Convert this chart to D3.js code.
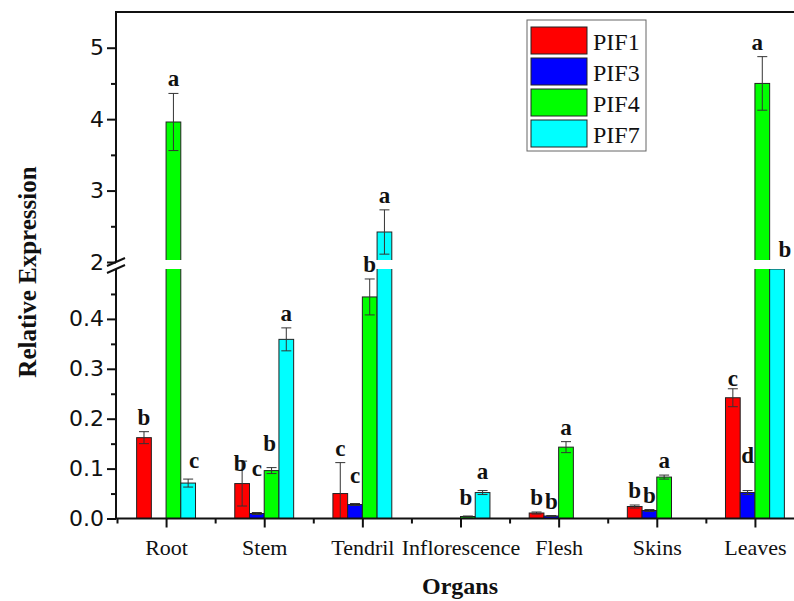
<!DOCTYPE html>
<html>
<head>
<meta charset="utf-8">
<script src="https://cdn.jsdelivr.net/npm/d3@7"></script>
<style>
  body { margin: 0; background: #fff; }
  svg { display: block; }
</style>
</head>
<body>
<svg id="svg" width="794" height="601"></svg>
<script>
// data
const organs = ["Root", "Stem", "Tendril", "Inflorescence", "Flesh", "Skins", "Leaves"];
const series = ["PIF1", "PIF3", "PIF4", "PIF7"];
const colors = ["#ff0000", "#0000ff", "#00ff00", "#00ffff"];

const pif1 = [0.162, 0.070, 0.050, 0, 0.011, 0.024, 0.242];
const pif3 = [0, 0.010, 0.028, 0, 0.005, 0.016, 0.052];
const pif4 = [3.96, 0.096, 0.444, 0.004, 0.143, 0.083, 4.50];
const pif7 = [0.071, 0.359, 2.42, 0.052, 0, 0, 1.2];

const pif1Err = [0.012, 0.045, 0.062, 0, 0.002, 0.003, 0.018];
const pif3Err = [0, 0.002, 0.002, 0, 0.001, 0.002, 0.004];
const pif4Err = [0.40, 0.006, 0.036, 0.001, 0.011, 0.004, 0.375];
const pif7Err = [0.008, 0.023, 0.31, 0.004, 0, 0, 0];

const pif1Sig = ["b", "b", "c", "", "b", "b", "c"];
const pif3Sig = ["", "c", "c", "", "b", "b", "d"];
const pif4Sig = ["a", "b", "b", "b", "a", "a", "a"];
const pif7Sig = ["c", "a", "a", "a", "", "", "b"];

const lowTicks = [0, 0.1, 0.2, 0.3, 0.4];
const highTicks = [2, 3, 4, 5];

const values = [pif1, pif3, pif4, pif7];
const errors = [pif1Err, pif3Err, pif4Err, pif7Err];
const letters = [pif1Sig, pif3Sig, pif4Sig, pif7Sig];

// hand placed letters in the original, nudged in px
const letterNudge = {
  "Root|PIF7": [6, -4],
  "Stem|PIF1": [-2, 17],
  "Stem|PIF3": [0, -30],
  "Stem|PIF4": [-2, -10],
  "Tendril|PIF3": [0, -14],
  "Inflorescence|PIF4": [-2, -4],
  "Inflorescence|PIF7": [0, -5],
  "Leaves|PIF1": [0, 4],
  "Leaves|PIF3": [0, -21],
  "Leaves|PIF4": [-5, 0],
  "Leaves|PIF7": [8, -5],
};

const svg = d3.select("#svg");

const axisX = 116;
const baseY = 518.5;
const gapTop = 260;
const gapBottom = 269;

const x = d3.scaleLinear([0.5, 7.5], [117, 804]);
const yLow = d3.scaleLinear([0, 0.5], [baseY, 269]).clamp(true);
const yHigh = d3.scaleLinear([2, 5.5], [262, 12]);

// broken axis: values between 0.5 and 2 fall into the gap
const y = (v) => (v >= 2 ? yHigh(v) : yLow(v));

const barW = x(0.65) - x(0.5);
const serif = "'Liberation Serif', 'Times New Roman', serif";

const rows = [];
organs.forEach((organ, i) => {
  series.forEach((s, j) => {
    rows.push({
      organ, s, j,
      v: values[j][i],
      e: errors[j][i],
      sig: letters[j][i],
      x0: x(i + 1) + (j - 2) * barW,
    });
  });
});

// bars
svg.append("g")
  .selectAll("rect")
  .data(rows.filter((d) => d.v > 0))
  .join("rect")
  .attr("x", (d) => d.x0)
  .attr("width", barW)
  .attr("y", (d) => y(d.v))
  .attr("height", (d) => baseY - y(d.v))
  .attr("fill", (d) => colors[d.j])
  .attr("stroke", "#222")
  .attr("stroke-width", 1);

// error bars
const eb = svg.append("g")
  .attr("stroke", "#333")
  .attr("stroke-width", 1)
  .selectAll("g")
  .data(rows.filter((d) => d.e > 0))
  .join("g");

eb.append("line")
  .attr("x1", (d) => d.x0 + barW / 2)
  .attr("x2", (d) => d.x0 + barW / 2)
  .attr("y1", (d) => y(d.v + d.e))
  .attr("y2", (d) => y(Math.max(0, d.v - d.e)));
eb.append("line")
  .attr("x1", (d) => d.x0 + barW / 2 - 5)
  .attr("x2", (d) => d.x0 + barW / 2 + 5)
  .attr("y1", (d) => y(d.v + d.e))
  .attr("y2", (d) => y(d.v + d.e));
eb.filter((d) => d.v - d.e > 0)
  .append("line")
  .attr("x1", (d) => d.x0 + barW / 2 - 5)
  .attr("x2", (d) => d.x0 + barW / 2 + 5)
  .attr("y1", (d) => y(d.v - d.e))
  .attr("y2", (d) => y(d.v - d.e));

// white band of the axis break
svg.append("rect")
  .attr("x", axisX + 1)
  .attr("y", gapTop)
  .attr("width", 800)
  .attr("height", gapBottom - gapTop)
  .attr("fill", "#fff");

// significance letters
svg.append("g")
  .attr("font-family", serif)
  .attr("font-weight", "bold")
  .attr("font-size", 23)
  .attr("text-anchor", "middle")
  .attr("fill", "#111")
  .selectAll("text")
  .data(rows.filter((d) => d.sig))
  .join("text")
  .attr("x", (d) => d.x0 + barW / 2 + (letterNudge[d.organ + "|" + d.s] || [0, 0])[0])
  .attr("y", (d) => y(d.v + d.e) - 7 + (letterNudge[d.organ + "|" + d.s] || [0, 0])[1])
  .text((d) => d.sig);

// y axes
const tickFont = "'DejaVu Sans', sans-serif";
function styleAxis(g) {
  g.select(".domain").remove();
  g.selectAll("line").attr("stroke", "#111").attr("stroke-width", 2);
  g.selectAll("text").attr("font-family", tickFont).attr("font-size", 22).attr("fill", "#111");
}

svg.append("g")
  .attr("transform", `translate(${axisX},0)`)
  .call(d3.axisLeft(yLow).tickValues(lowTicks).tickFormat(d3.format(".1f")).tickSize(9).tickPadding(3))
  .call(styleAxis);
svg.append("g")
  .attr("transform", `translate(${axisX},0)`)
  .call(d3.axisLeft(yLow).tickValues(d3.range(0.05, 0.5, 0.1)).tickFormat("").tickSize(5))
  .call(styleAxis);
svg.append("g")
  .attr("transform", `translate(${axisX},0)`)
  .call(d3.axisLeft(yHigh).tickValues(highTicks).tickFormat(d3.format("d")).tickSize(9).tickPadding(3))
  .call(styleAxis);
svg.append("g")
  .attr("transform", `translate(${axisX},0)`)
  .call(d3.axisLeft(yHigh).tickValues([2.5, 3.5, 4.5]).tickFormat("").tickSize(5))
  .call(styleAxis);

// x axis
svg.append("g")
  .attr("transform", `translate(0,${baseY})`)
  .call(d3.axisBottom(x).tickValues(d3.range(1, 8)).tickFormat((d) => organs[d - 1]).tickSize(9).tickPadding(12))
  .call((g) => {
    g.select(".domain").remove();
    g.selectAll("line").attr("stroke", "#111").attr("stroke-width", 2);
    g.selectAll("text").attr("font-family", serif).attr("font-size", 22).attr("fill", "#111");
  });
svg.append("g")
  .attr("transform", `translate(0,${baseY})`)
  .call(d3.axisBottom(x).tickValues(d3.range(0.5, 8, 1)).tickFormat("").tickSize(5))
  .call((g) => {
    g.select(".domain").remove();
    g.selectAll("line").attr("stroke", "#111").attr("stroke-width", 2);
  });

// frame lines
const frame = svg.append("g").attr("stroke", "#111").attr("stroke-width", 2);
frame.append("line").attr("x1", axisX).attr("x2", 804).attr("y1", baseY).attr("y2", baseY);
frame.append("line").attr("x1", axisX).attr("x2", 804).attr("y1", 12).attr("y2", 12);
frame.append("line").attr("x1", axisX).attr("x2", axisX).attr("y1", baseY).attr("y2", gapBottom);
frame.append("line").attr("x1", axisX).attr("x2", axisX).attr("y1", yHigh(2)).attr("y2", 11);

// break marks
const brk = svg.append("g").attr("stroke", "#111").attr("stroke-width", 2);
brk.append("line").attr("x1", axisX - 9).attr("y1", yHigh(2) + 4).attr("x2", axisX + 9).attr("y2", yHigh(2) - 4);
brk.append("line").attr("x1", axisX - 9).attr("y1", gapBottom + 4).attr("x2", axisX + 9).attr("y2", gapBottom - 4);

// axis titles
svg.append("text")
  .attr("transform", "translate(36,272) rotate(-90)")
  .attr("text-anchor", "middle")
  .attr("font-family", serif)
  .attr("font-weight", "bold")
  .attr("font-size", 25)
  .attr("fill", "#111")
  .text("Relative Expression");

svg.append("text")
  .attr("x", 460)
  .attr("y", 594)
  .attr("text-anchor", "middle")
  .attr("font-family", serif)
  .attr("font-weight", "bold")
  .attr("font-size", 24)
  .attr("fill", "#111")
  .text("Organs");

// legend
const legend = svg.append("g");
legend.append("rect")
  .attr("x", 527).attr("y", 20).attr("width", 119).attr("height", 131)
  .attr("fill", "#fff").attr("stroke", "#666").attr("stroke-width", 1);
const item = legend.selectAll("g.item")
  .data(series)
  .join("g")
  .attr("class", "item")
  .attr("transform", (d, i) => `translate(531,${27 + i * 31})`);
item.append("rect")
  .attr("width", 56).attr("height", 27)
  .attr("fill", (d, i) => colors[i])
  .attr("stroke", "#222").attr("stroke-width", 1);
item.append("text")
  .attr("x", 62).attr("y", 23)
  .attr("font-family", serif)
  .attr("font-size", 24)
  .attr("fill", "#111")
  .text((d) => d);
</script>
</body>
</html>
